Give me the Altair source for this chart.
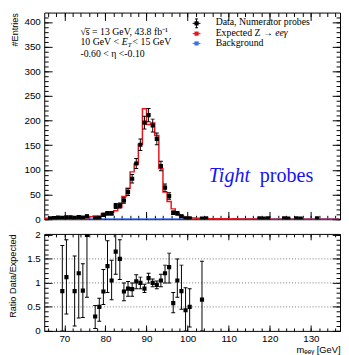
import altair as alt
import pandas as pd

# ---------------- values ----------------
bin_low_edges = [65, 66, 67, 68, 69, 70, 71, 72, 73, 74, 75, 76, 77, 78, 79, 80, 81, 82,
                 83, 84, 85, 86, 87, 88, 89, 90, 91, 92, 93, 94, 95, 96, 97, 98, 99, 100,
                 101, 102, 103, 104, 105, 106, 107, 108, 109, 110, 111, 112, 113, 114, 115, 116,
                 117, 118, 119, 120, 121, 122, 123, 124, 125, 126, 127, 128, 129, 130, 131, 132,
                 133, 134, 135, 136]
expected_counts = [2.0, 2.0, 1.5, 2.5, 3.5, 3.0, 3.0, 3.5, 3.0, 4.0, 3.0, 5.0, 6.5, 6.0, 11.0, 10.0, 14.0, 17.0,
                   24.0, 46.0, 63.0, 96.0, 112.0, 152.0, 224.0, 192.0, 195.0, 170.0, 103.0, 55.0, 36.0, 21.0, 12.0, 7.0, 4.0, 3.0,
                   2.5, 2.0, 1.5, 1.5, 1.2, 1.0, 1.0, 0.8, 0.8, 0.7, 0.8, 0.6, 0.5, 0.4, 0.3, 0.3,
                   0.3, 0.3, 0.3, 0.2, 0.2, 0.2, 0.2, 0.2, 0.2, 0.1, 0.1, 0.1, 0.1, 0.1, 0.1, 0.1,
                   0.1, 0.1, 0.1, 0.1]
background_counts = [0, 0, 0, 0, 0, 0, 0, 0, 0, 0, 0, 0, 0, 0, 0, 0, 0, 0,
                     0, 0, 0, 0, 0, 0, 0, 0, 0, 0, 0, 0, 0, 0, 0, 0, 0, 0,
                     0, 0, 0, 0, 0, 0, 0, 0, 0, 0, 0, 0, 0, 0, 0, 0,
                     0, 0, 0, 0, 0, 0, 0, 0, 0, 0, 0, 0, 0, 0, 0, 0,
                     0, 0, 0, 0]

data_bins = [66, 67, 68, 69, 70, 71, 72, 73, 74, 75,
             77, 78, 79, 80, 81, 82, 83, 84, 85, 86,
             87, 88, 89, 90, 91, 92, 93, 94, 95, 96,
             97, 98, 99, 100, 103, 104,
             117, 118, 119, 123, 124, 126, 127, 131]
data_counts = [2, 2.5, 3.5, 3, 4, 4, 3, 4.5, 3.5, 6,
               2, 3, 9, 12, 12, 27, 28, 38, 55, 82,
               113, 151, 196, 211, 190, 163, 108, 64, 47, 13,
               12, 6, 2, 2, 1.5, 2,
               2, 1.5, 2, 2, 1.5, 2, 1.5, 2]
data_errors = [1.4, 1.6, 1.9, 1.7, 2, 2, 1.7, 2.1, 1.9, 2.4,
               1.4, 1.7, 3, 3.5, 3.5, 5, 5, 5.8, 7, 8.5,
               10, 11.5, 13, 13.5, 13, 12, 9.5, 7.5, 6.5, 3.6,
               3.5, 2.4, 1.4, 1.4, 1.2, 1.4,
               1.4, 1.2, 1.4, 1.4, 1.2, 1.4, 1.2, 1.4]

ratio_bins = [69, 70, 72, 73, 74, 75, 77, 78, 79, 80, 81, 82, 83, 84, 85, 86,
              87, 88, 89, 90, 91, 92, 93, 94, 95, 96, 97, 98, 99, 100, 103]
ratio_values = [0.83, 1.12, 0.83, 1.2, 0.84, 2.0, 0.3, 0.5, 0.82, 1.35, 1.05, 1.65, 1.5, 0.82, 0.88, 0.87,
                1.03, 1.0, 0.88, 1.1, 1.0, 0.96, 1.05, 1.2, 1.33, 0.58, 1.05, 0.83, 0.43, 0.5, 0.65]
ratio_low = [0.0, 0.35, 0.1, 0.27, 0.28, 0.7, 0.05, 0.2, 0.55, 0.8, 0.65, 1.18, 1.07, 0.63, 0.72, 0.72,
             0.88, 0.88, 0.8, 1.0, 0.92, 0.88, 0.92, 1.0, 1.0, 0.38, 0.7, 0.45, 0.0, 0.08, 0.0]
ratio_high = [1.78, 1.9, 1.56, 2.2, 1.4, 3.0, 0.53, 0.68, 1.28, 1.88, 1.47, 2.1, 1.9, 1.0, 1.03, 1.0,
              1.17, 1.12, 0.97, 1.2, 1.08, 1.04, 1.18, 1.37, 1.62, 0.8, 1.5, 1.37, 0.9, 0.88, 1.45]

x_major = [70, 80, 90, 100, 110, 120, 130]
y_major_top = [0, 50, 100, 150, 200, 250, 300, 350, 400]
y_major_ratio = [0, 0.5, 1, 1.5, 2]
ratio_lines = [0.5, 1.0, 1.5]
x_minor = list(range(66, 138, 2))
y_minor_top = list(range(0, 420, 10))
y_minor_ratio = [round(0.1 * i, 1) for i in range(0, 21)]

stat_lines = ["\u221as\u0305 = 13 GeV, 43.8 fb\u207b\u00b9", "-0.60 < \u03b7 <-0.10"]
legend_labels = ["Data, Numerator probes", "Expected Z \u2192 ", "ee\u03b3", "Background"]

# ---------------- styling ----------------
SANS = "Liberation Sans"
SERIF = "Liberation Serif"
BLACK = "#000000"
RED = "#e8141a"
BLUE_LINE = "#3c6ff0"
BLUE_TEXT = "#1414f0"

XDOM = [65.1, 137.1]
W, H1, H2 = 302, 211, 99
Y1 = [0, 419]
Y2 = [0, 2.02]


def xs():
    return alt.Scale(domain=XDOM, nice=False, zero=False)


def ys(d):
    return alt.Scale(domain=d, nice=False, zero=False)


edges = bin_low_edges + [bin_low_edges[-1] + 1]
exp_df = pd.DataFrame({"m": edges, "v": expected_counts + [expected_counts[-1]]})
bkg_df = pd.DataFrame({"m": edges, "v": background_counts + [background_counts[-1]]})
data_df = pd.DataFrame({
    "m": [b + 0.5 for b in data_bins],
    "v": data_counts,
    "lo": [max(c - e, 0) for c, e in zip(data_counts, data_errors)],
    "hi": [c + e for c, e in zip(data_counts, data_errors)],
})
ratio_df = pd.DataFrame({
    "m": [b + 0.5 for b in ratio_bins],
    "v": ratio_values,
    "lo": ratio_low,
    "hi": ratio_high,
})
one = pd.DataFrame({"k": [0]})
anchor = pd.DataFrame({"ax": [XDOM[0]], "ay": [0.0]})


def X():
    return alt.X("m:Q", scale=xs(), axis=None)


def points_layers(df, ydom, cap=4):
    err = alt.Chart(df).mark_rule(color=BLACK, strokeWidth=1, clip=True).encode(
        x=X(), y=alt.Y("lo:Q", scale=ys(ydom), axis=None), y2="hi:Q")
    clo = alt.Chart(df).mark_tick(orient="horizontal", size=cap, thickness=1, color=BLACK,
                                  opacity=1, clip=True).encode(
        x=X(), y=alt.Y("lo:Q", scale=ys(ydom), axis=None))
    chi = alt.Chart(df).mark_tick(orient="horizontal", size=cap, thickness=1, color=BLACK,
                                  opacity=1, clip=True).encode(
        x=X(), y=alt.Y("hi:Q", scale=ys(ydom), axis=None))
    pts = alt.Chart(df).mark_square(size=18, color=BLACK, opacity=1, clip=True).encode(
        x=X(), y=alt.Y("v:Q", scale=ys(ydom), axis=None))
    return [err, clo, chi, pts]


def label(text, x, y, size=10, font=SERIF, style="normal", color=BLACK):
    return alt.Chart(one).mark_text(text=text, font=font, fontSize=size, fontStyle=style,
                                    color=color, align="left", baseline="alphabetic").encode(
        x=alt.value(x), y=alt.value(y))


def hline(x1, x2, y, color):
    return alt.Chart(one).mark_rule(color=color, strokeWidth=1).encode(
        x=alt.value(x1), x2=alt.value(x2), y=alt.value(y))


def vline(x, y1, y2, color):
    return alt.Chart(one).mark_rule(color=color, strokeWidth=1).encode(
        x=alt.value(x), y=alt.value(y1), y2=alt.value(y2))


def sym(x, y, color):
    return alt.Chart(one).mark_square(size=18, color=color, opacity=1).encode(
        x=alt.value(x), y=alt.value(y))


def tk(orient, values, size, offset):
    return alt.Axis(orient=orient, values=values, tickSize=size, offset=offset, labels=False,
                    domain=False, grid=False, ticks=True, title=None, tickColor=BLACK, tickWidth=1)


def axis_layer(ydom, xaxis, yaxis):
    return alt.Chart(anchor).mark_point(opacity=0).encode(
        x=alt.X("ax:Q", scale=xs(), axis=xaxis),
        y=alt.Y("ay:Q", scale=ys(ydom), axis=yaxis))


def tick_layers(ydom, H, xmaj, xmin, ymaj, ymin, xms, xns, yms, yns):
    return [
        axis_layer(ydom, tk("top", xmaj, xms, -H), tk("right", ymaj, yms, -W)),
        axis_layer(ydom, tk("bottom", xmaj, xms, -H), tk("left", ymaj, yms, -W)),
        axis_layer(ydom, tk("top", xmin, xns, -H), tk("right", ymin, yns, -W)),
        axis_layer(ydom, tk("bottom", xmin, xns, -H), tk("left", ymin, yns, -W)),
    ]


# ---------------- top panel ----------------
bkg = alt.Chart(bkg_df).mark_line(interpolate="step-after", color=BLUE_LINE, strokeWidth=2,
                                  clip=True).encode(x=X(), y=alt.Y("v:Q", scale=ys(Y1), axis=None))
exp = alt.Chart(exp_df).mark_line(interpolate="step-after", color=RED, strokeWidth=1.5,
                                  clip=True).encode(x=X(), y=alt.Y("v:Q", scale=ys(Y1), axis=None))

tx0 = 37
texts = [
    label(stat_lines[0], tx0, 22.5),
    label("10 GeV < ", tx0, 33.3),
    label("E", tx0 + 42.2, 33.3, style="italic"),
    label("T", tx0 + 48.3, 35.3, size=7, style="italic"),
    label(" < 15 GeV", tx0 + 53.2, 33.3),
    label(stat_lines[1], tx0, 45.0),
    # legend
    vline(155.5, 6.5, 15.5, BLACK), hline(154, 157, 6.5, BLACK), hline(154, 157, 15.5, BLACK),
    hline(151.5, 159.5, 11, BLACK), sym(155.5, 11, BLACK),
    hline(151.5, 159.5, 21.5, RED), sym(155.5, 21.5, RED),
    hline(151.5, 159.5, 31.5, BLUE_LINE), sym(155.5, 31.5, BLUE_LINE),
    label(legend_labels[0], 175, 12.7),
    label(legend_labels[1], 175, 23.7),
    label(legend_labels[2], 175 + 60.8, 23.7, style="italic"),
    label(legend_labels[3], 175, 33.7),
    # probe label
    label("Tight", 168, 173, size=20.5, style="italic", color=BLUE_TEXT),
    label("probes", 220, 173, size=20.5, color=BLUE_TEXT),
]

top_marks = alt.layer(bkg, exp, *points_layers(data_df, Y1, cap=4), *texts)
top_lab = axis_layer(Y1, None, alt.Axis(orient="left", values=y_major_top, labels=True, ticks=False,
                                        domain=False, grid=False, title="#Entries",
                                        titleAnchor="end", titlePadding=5, labelPadding=4,
                                        format="d"))
top = alt.layer(top_marks, top_lab,
                *tick_layers(Y1, H1, x_major, x_minor, y_major_top, y_minor_top, 8, 4, 8, 4)
                ).resolve_scale(x="independent", y="independent").properties(width=W, height=H1)

# ---------------- ratio panel ----------------
rl = alt.Chart(pd.DataFrame({"r": ratio_lines})).mark_rule(
    color="#777777", strokeDash=[1, 2], strokeWidth=1).encode(
    y=alt.Y("r:Q", scale=ys(Y2), axis=None))
rat_marks = alt.layer(rl, *points_layers(ratio_df, Y2, cap=4))
rat_lab = axis_layer(
    Y2,
    alt.Axis(orient="bottom", values=x_major, labels=True, ticks=False, domain=False, grid=False,
             title="m\u2091\u2091\u1d67 [GeV]", titleAnchor="end", labelPadding=3, titlePadding=1,
             format="d", titleFontSize=9.5),
    alt.Axis(orient="left", values=y_major_ratio, labels=True, ticks=False, domain=False, grid=False,
             title="Ratio Data/Expected", titleAnchor="end", titlePadding=9, labelPadding=4,
             format="~g"))
ratio = alt.layer(rat_marks, rat_lab,
                  *tick_layers(Y2, H2, x_major, x_minor, y_major_ratio, y_minor_ratio, 6, 3, 8, 4)
                  ).resolve_scale(x="independent", y="independent").properties(width=W, height=H2)

chart = alt.vconcat(top, ratio, spacing=15, bounds="flush").properties(
    padding={"left": 0, "top": 0, "right": 0, "bottom": 0}
).configure_view(stroke=BLACK, strokeWidth=1).configure_axis(
    labelFont=SANS, labelFontSize=10, labelColor=BLACK, titleFont=SANS, titleFontSize=9.3,
    titleColor=BLACK, titleFontWeight="normal")

chart.save("out.html", embed_options={"renderer": "svg", "actions": False})
